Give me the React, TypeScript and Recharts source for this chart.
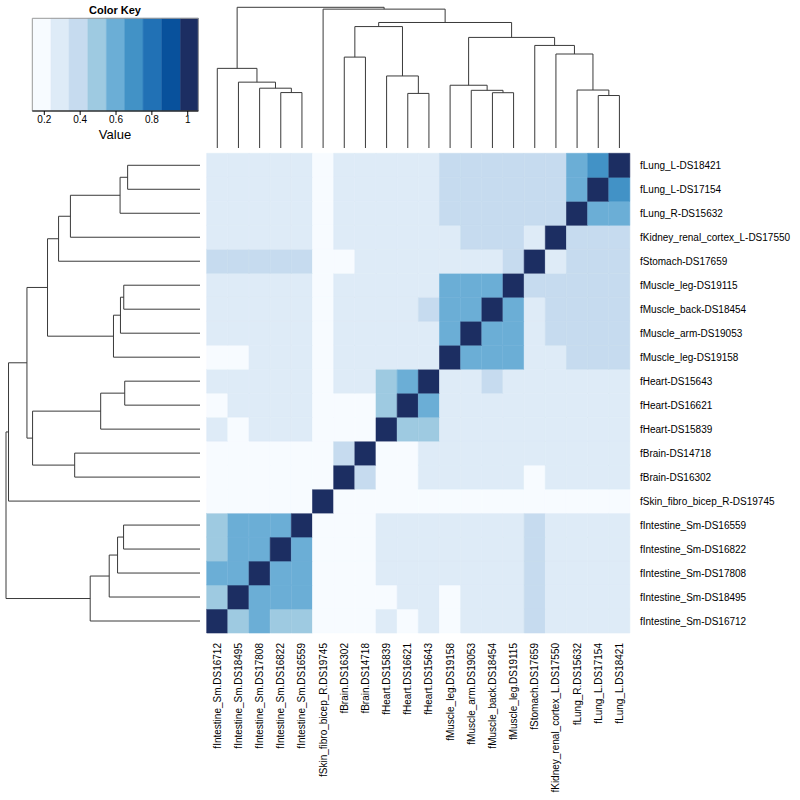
import React from 'react'
import { BarChart, Bar, Cell, XAxis, YAxis, ScatterChart, Scatter, ReferenceArea } from 'recharts'

// columns, left to right (same order as the dendrogram leaves)
const colLabels = [
  'fIntestine_Sm.DS16712', 'fIntestine_Sm.DS18495', 'fIntestine_Sm.DS17808', 'fIntestine_Sm.DS16822',
  'fIntestine_Sm.DS16559', 'fSkin_fibro_bicep_R.DS19745', 'fBrain.DS16302', 'fBrain.DS14718',
  'fHeart.DS15839', 'fHeart.DS16621', 'fHeart.DS15643', 'fMuscle_leg.DS19158', 'fMuscle_arm.DS19053',
  'fMuscle_back.DS18454', 'fMuscle_leg.DS19115', 'fStomach.DS17659', 'fKidney_renal_cortex_L.DS17550',
  'fLung_R.DS15632', 'fLung_L.DS17154', 'fLung_L.DS18421',
]

// rows, top to bottom
const rowLabels = [
  'fLung_L-DS18421', 'fLung_L-DS17154', 'fLung_R-DS15632', 'fKidney_renal_cortex_L-DS17550',
  'fStomach-DS17659', 'fMuscle_leg-DS19115', 'fMuscle_back-DS18454', 'fMuscle_arm-DS19053',
  'fMuscle_leg-DS19158', 'fHeart-DS15643', 'fHeart-DS16621', 'fHeart-DS15839', 'fBrain-DS14718',
  'fBrain-DS16302', 'fSkin_fibro_bicep_R-DS19745', 'fIntestine_Sm-DS16559', 'fIntestine_Sm-DS16822',
  'fIntestine_Sm-DS17808', 'fIntestine_Sm-DS18495', 'fIntestine_Sm-DS16712',
]

const values: number[][] = [
  [.29, .29, .29, .29, .29, .19, .29, .29, .29, .29, .29, .39, .39, .39, .39, .39, .39, .6, .7, 1],
  [.29, .29, .29, .29, .29, .19, .29, .29, .29, .29, .29, .39, .39, .39, .39, .39, .39, .6, 1, .7],
  [.29, .29, .29, .29, .29, .19, .29, .29, .29, .29, .29, .39, .39, .39, .39, .39, .39, 1, .6, .6],
  [.29, .29, .29, .29, .29, .19, .29, .29, .29, .29, .29, .29, .39, .39, .39, .29, 1, .39, .39, .39],
  [.39, .39, .39, .39, .39, .19, .19, .29, .29, .29, .29, .29, .29, .29, .39, 1, .29, .39, .39, .39],
  [.29, .29, .29, .29, .29, .19, .29, .29, .29, .29, .29, .6, .6, .6, 1, .39, .39, .39, .39, .39],
  [.29, .29, .29, .29, .29, .19, .29, .29, .29, .29, .39, .6, .6, 1, .6, .29, .39, .39, .39, .39],
  [.29, .29, .29, .29, .29, .19, .29, .29, .29, .29, .29, .6, 1, .6, .6, .29, .39, .39, .39, .39],
  [.19, .19, .29, .29, .29, .19, .29, .29, .29, .29, .29, 1, .6, .6, .6, .29, .29, .39, .39, .39],
  [.29, .29, .29, .29, .29, .19, .29, .29, .49, .6, 1, .29, .29, .39, .29, .29, .29, .29, .29, .29],
  [.19, .29, .29, .29, .29, .19, .19, .19, .49, 1, .6, .29, .29, .29, .29, .29, .29, .29, .29, .29],
  [.29, .19, .29, .29, .29, .19, .19, .19, 1, .49, .49, .29, .29, .29, .29, .29, .29, .29, .29, .29],
  [.19, .19, .19, .19, .19, .19, .39, 1, .19, .19, .29, .29, .29, .29, .29, .29, .29, .29, .29, .29],
  [.19, .19, .19, .19, .19, .19, 1, .39, .19, .19, .29, .29, .29, .29, .29, .19, .29, .29, .29, .29],
  [.19, .19, .19, .19, .19, 1, .19, .19, .19, .19, .19, .19, .19, .19, .19, .19, .19, .19, .19, .19],
  [.49, .6, .6, .6, 1, .19, .19, .19, .29, .29, .29, .29, .29, .29, .29, .39, .29, .29, .29, .29],
  [.49, .6, .6, 1, .6, .19, .19, .19, .29, .29, .29, .29, .29, .29, .29, .39, .29, .29, .29, .29],
  [.6, .6, 1, .6, .6, .19, .19, .19, .29, .29, .29, .29, .29, .29, .29, .39, .29, .29, .29, .29],
  [.49, 1, .6, .6, .6, .19, .19, .19, .19, .29, .29, .19, .29, .29, .29, .39, .29, .29, .29, .29],
  [1, .49, .6, .49, .49, .19, .19, .19, .29, .19, .29, .19, .29, .29, .29, .39, .29, .29, .29, .29],
]

const keyBreaks = [0.133, 0.237, 0.338, 0.443, 0.546, 0.648, 0.751, 0.855, 0.96, 1.059]
const keyColors = ['#F7FBFF', '#DEEBF7', '#C6DBEF', '#9ECAE1', '#6BAED6', '#4292C6', '#2171B5', '#08519C', '#1C2E62']
const keyTicks = [0.2, 0.4, 0.6, 0.8, 1]

// hclust-style merges: negative = leaf (column index + 1), positive = earlier merge (1-based)
const merges: [number, number, number][] = [
  [-19, -20, 0.373],
  [-10, -11, 0.388],
  [-4, -5, 0.394],
  [-14, -15, 0.393],
  [-13, 4, 0.41],
  [-18, 1, 0.412],
  [-3, 3, 0.425],
  [-12, 5, 0.446],
  [-2, 7, 0.468],
  [-9, 2, 0.512],
  [-1, 9, 0.566],
  [-7, -8, 0.646],
  [-17, 6, 0.668],
  [-16, 13, 0.729],
  [8, 14, 0.786],
  [12, 10, 0.863],
  [16, 15, 0.892],
  [-6, 17, 0.987],
  [11, 18, 1.0],
]

const FONT = '"Liberation Sans", Arial, Helvetica, sans-serif'
const LINE = '#3a3a3a'

function colorFor(v: number) {
  for (let i = 0; i < keyColors.length; i++) {
    if (v < keyBreaks[i + 1]) return keyColors[i]
  }
  return keyColors[keyColors.length - 1]
}

// builds the U-shaped links of the dendrogram: p = leaf axis position, h = height
function dendroLinks() {
  const nodes: { p: number; h: number }[] = []
  const get = (id: number) => (id < 0 ? { p: -id - 1 + 0.5, h: 0 } : nodes[id - 1])
  return merges.map(([a, b, h], i) => {
    const A = get(a)
    const B = get(b)
    nodes[i] = { p: (A.p + B.p) / 2, h }
    return [
      { p: A.p, h: A.h },
      { p: A.p, h },
      { p: B.p, h },
      { p: B.p, h: B.h },
    ]
  })
}

const links = dendroLinks()
const NoDot = () => <g />

const heatData = colLabels.map((name) => {
  const d: Record<string, string | number> = { name }
  rowLabels.forEach((_, r) => {
    d['r' + r] = 1
  })
  return d
})

const rowTicks = rowLabels.map((_, i) => i + 0.5)

const BottomTick = ({ x, y, payload }: any) => (
  <text
    x={x}
    y={y}
    transform={`rotate(-90, ${x}, ${y})`}
    textAnchor="end"
    dy="0.35em"
    fontSize={10}
    fontFamily={FONT}
    fill="#000"
  >
    {payload.value}
  </text>
)

export default function App() {
  const abs = { position: 'absolute' as const, left: 0, top: 0 }
  return (
    <div style={{ position: 'absolute', left: 0, top: 0, width: 800, height: 800, background: '#fff', fontFamily: FONT }}>
      {/* color key */}
      <div style={abs}>
        <ScatterChart width={210} height={140} margin={{ top: 18.3, left: 32.3, right: 11.7, bottom: 3 }}>
          <XAxis
            type="number"
            dataKey="x"
            domain={[keyBreaks[0], keyBreaks[keyBreaks.length - 1]]}
            ticks={keyTicks}
            tickFormatter={(v) => String(v)}
            height={26}
            tickSize={4}
            tickMargin={1}
            tick={{ fontSize: 10, fill: '#000', fontFamily: FONT }}
            stroke="#000"
            allowDataOverflow
          />
          <YAxis type="number" dataKey="y" domain={[0, 1]} hide />
          {keyColors.map((c, i) => (
            <ReferenceArea
              key={i}
              x1={keyBreaks[i]}
              x2={keyBreaks[i + 1]}
              y1={0}
              y2={1}
              fill={c}
              fillOpacity={1}
              stroke={c}
              strokeWidth={0.5}
            />
          ))}
          <ReferenceArea
            x1={keyBreaks[0]}
            x2={keyBreaks[keyBreaks.length - 1]}
            y1={0}
            y2={1}
            fill="none"
            stroke="#999"
            strokeWidth={1}
          />
          <Scatter
            data={keyColors.map((_, i) => ({ x: (keyBreaks[i] + keyBreaks[i + 1]) / 2, y: 0.5 }))}
            shape={NoDot}
            isAnimationActive={false}
          />
        </ScatterChart>
      </div>
      <div style={{ position: 'absolute', left: 115, top: 10, transform: 'translate(-50%, -50%)', fontSize: 11, fontWeight: 'bold', whiteSpace: 'nowrap' }}>
        Color Key
      </div>
      <div style={{ position: 'absolute', left: 115, top: 134, transform: 'translate(-50%, -50%)', fontSize: 13, lineHeight: '13px', whiteSpace: 'nowrap' }}>
        Value
      </div>

      {/* column dendrogram */}
      <div style={abs}>
        <ScatterChart width={800} height={149} margin={{ top: 7.3, right: 170, bottom: 1, left: 206.7 }}>
          <XAxis type="number" dataKey="x" domain={[0, colLabels.length]} hide />
          <YAxis type="number" dataKey="y" domain={[0, 1]} hide />
          {links.map((seg, i) => (
            <Scatter
              key={i}
              data={seg.map((s) => ({ x: s.p, y: s.h }))}
              fill={LINE}
              line={{ stroke: LINE, strokeWidth: 1 }}
              lineType="joint"
              shape={NoDot}
              isAnimationActive={false}
            />
          ))}
        </ScatterChart>
      </div>

      {/* row dendrogram */}
      <div style={abs}>
        <ScatterChart width={203} height={800} margin={{ top: 153.3, right: 3, bottom: 167, left: 6 }}>
          <XAxis type="number" dataKey="x" domain={[0, 1]} reversed hide />
          <YAxis type="number" dataKey="y" domain={[0, rowLabels.length]} hide />
          {links.map((seg, i) => (
            <Scatter
              key={i}
              data={seg.map((s) => ({ x: s.h, y: s.p }))}
              fill={LINE}
              line={{ stroke: LINE, strokeWidth: 1 }}
              lineType="joint"
              shape={NoDot}
              isAnimationActive={false}
            />
          ))}
        </ScatterChart>
      </div>

      {/* heatmap */}
      <div style={abs}>
        <BarChart
          width={800}
          height={800}
          data={heatData}
          barCategoryGap={0}
          barGap={0}
          margin={{ top: 153.3, right: 5, bottom: 7, left: 206.7 }}
        >
          <XAxis
            dataKey="name"
            interval={0}
            height={160}
            tickLine={false}
            axisLine={false}
            tickSize={6}
            tickMargin={4}
            tick={<BottomTick />}
          />
          <YAxis
            orientation="right"
            type="number"
            domain={[0, rowLabels.length]}
            ticks={rowTicks}
            interval={0}
            width={165}
            tickLine={false}
            axisLine={false}
            tickSize={6}
            tickMargin={4}
            tickFormatter={(v: number) => rowLabels[Math.round(rowLabels.length - 0.5 - v)]}
            tick={{ fontSize: 10, fill: '#000', fontFamily: FONT, textAnchor: 'start' }}
          />
          {rowLabels
            .map((_, r) => r)
            .reverse()
            .map((r) => (
              <Bar key={r} dataKey={'r' + r} stackId="h" isAnimationActive={false}>
                {colLabels.map((_, c) => {
                  const f = colorFor(values[r][c])
                  return <Cell key={c} fill={f} stroke={f} strokeWidth={0.6} />
                })}
              </Bar>
            ))}
        </BarChart>
      </div>
    </div>
  )
}
